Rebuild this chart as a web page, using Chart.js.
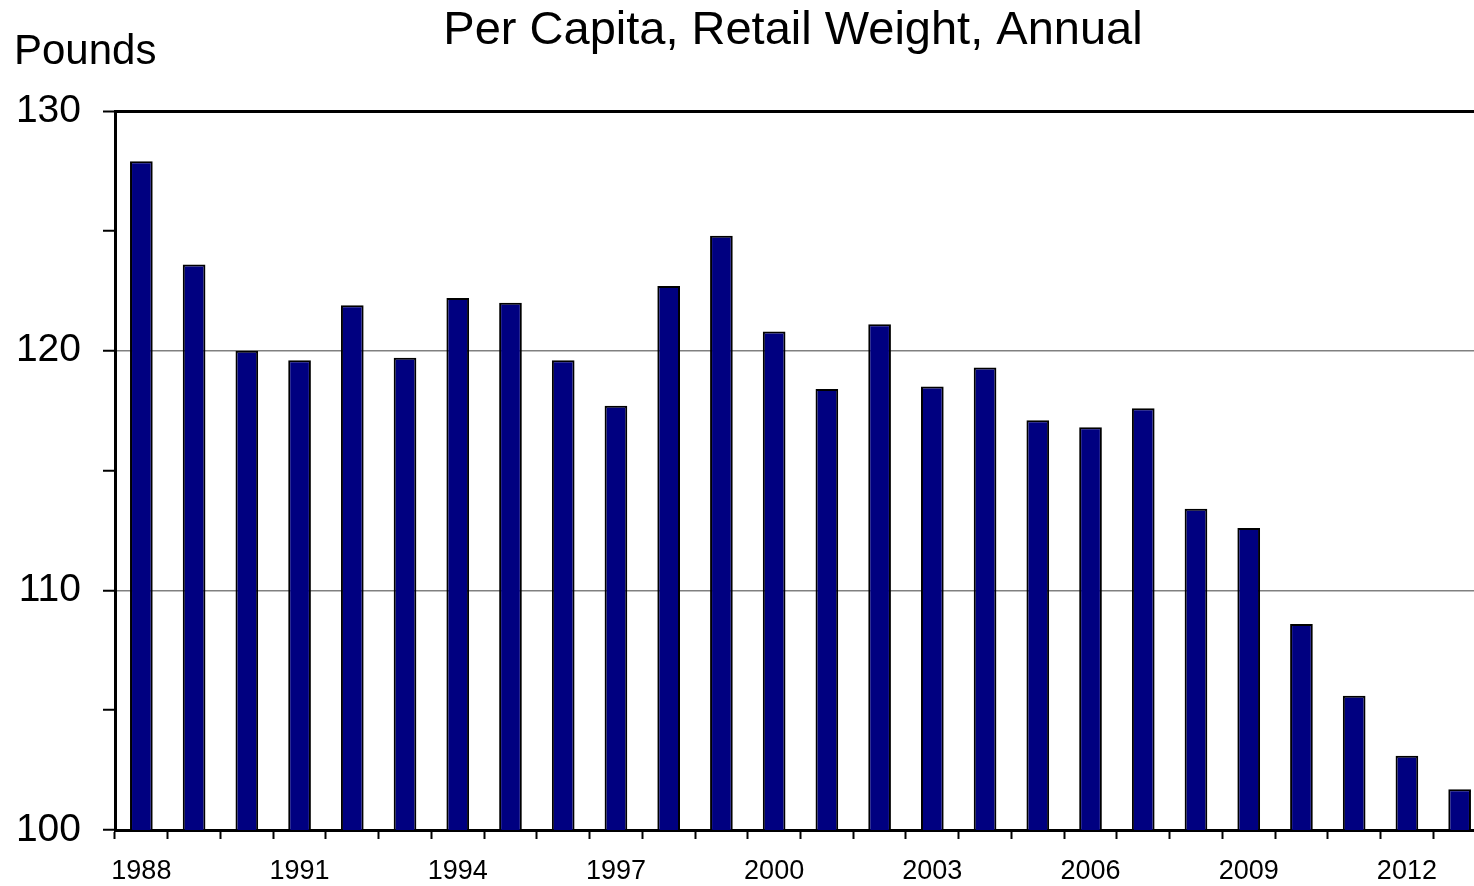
<!DOCTYPE html>
<html>
<head>
<meta charset="utf-8">
<script src="https://cdn.jsdelivr.net/npm/chart.js@4.4.1/dist/chart.umd.min.js"></script>
<style>
  html, body { margin: 0; padding: 0; background: #fff; overflow: hidden; }
  #wrap { width: 1488px; height: 886px; position: relative; }
</style>
</head>
<body>
<div id="wrap"><canvas id="chart"></canvas></div>
<script>
// Per capita consumption, pounds, retail weight
const years = ["1988", "1989", "1990", "1991", "1992", "1993", "1994", "1995", "1996", "1997",
  "1998", "1999", "2000", "2001", "2002", "2003", "2004", "2005", "2006", "2007",
  "2008", "2009", "2010", "2011", "2012", "2013"];
const pounds = [127.9, 123.6, 120.0, 119.6, 121.9, 119.7, 122.2, 122.0, 119.6, 117.7,
  122.7, 124.8, 120.8, 118.4, 121.1, 118.5, 119.3, 117.1, 116.8, 117.6,
  113.4, 112.6, 108.6, 105.6, 103.1, 101.7];
const xTickLabels = ["1988", "1991", "1994", "1997", "2000", "2003", "2006", "2009", "2012"];
const yTickLabels = [100, 110, 120, 130];

const FONT = "'Liberation Sans', Arial, sans-serif";
const TITLE = "Per Capita, Retail Weight, Annual";

// Title and "Pounds" unit label drawn above the plot
const headerText = {
  id: "headerText",
  afterDraw(chart) {
    const ctx = chart.ctx;
    ctx.save();
    ctx.fillStyle = "#000";
    ctx.textBaseline = "alphabetic";
    ctx.textAlign = "center";
    ctx.font = "47px " + FONT;
    ctx.fillText(TITLE, 793, 44);
    ctx.textAlign = "left";
    ctx.font = "42px " + FONT;
    ctx.fillText("Pounds", 14, 64);
    ctx.restore();
  },
};

new Chart(document.getElementById("chart"), {
  type: "bar",
  data: {
    labels: years,
    datasets: [
      {
        data: pounds,
        backgroundColor: "#000080",
        borderColor: "#000000",
        borderWidth: 2,
        categoryPercentage: 1.0,
        barPercentage: 0.43,
      },
    ],
  },
  options: {
    responsive: true,
    maintainAspectRatio: false,
    animation: false,
    layout: { padding: { left: 0, right: 2, top: 111, bottom: 0 } },
    plugins: {
      legend: { display: false },
      tooltip: { enabled: false },
      title: { display: false },
    },
    scales: {
      x: {
        offset: true,
        border: { display: true, color: "#000", width: 3 },
        grid: {
          display: true,
          offset: true,
          drawOnChartArea: false,
          tickLength: 9,
          tickColor: "#000",
          tickWidth: 2,
        },
        ticks: {
          autoSkip: false,
          maxRotation: 0,
          minRotation: 0,
          padding: 16,
          color: "#000",
          font: { family: FONT, size: 27 },
          callback: (val, i) => (xTickLabels.includes(years[i]) ? years[i] : ""),
        },
        afterFit: (scale) => {
          scale.height = 56;
        },
      },
      y: {
        min: 100,
        max: 130,
        border: { display: true, color: "#000", width: 3 },
        grid: {
          color: (c) => {
            const v = c.tick && c.tick.value;
            if (v === 130) return "#000";
            if (v === 110 || v === 120) return "#808080";
            return "rgba(0,0,0,0)";
          },
          lineWidth: (c) => (c.tick && c.tick.value === 130 ? 3 : 1.5),
          tickColor: "#000",
          tickWidth: 2,
          tickLength: 12,
        },
        ticks: {
          stepSize: 5,
          padding: 22,
          color: "#000",
          font: { family: FONT, size: 39 },
          callback: (v) => (yTickLabels.includes(v) ? String(v) : ""),
        },
        afterFit: (scale) => {
          scale.width = 115;
        },
      },
    },
  },
  plugins: [headerText],
});
</script>
</body>
</html>
